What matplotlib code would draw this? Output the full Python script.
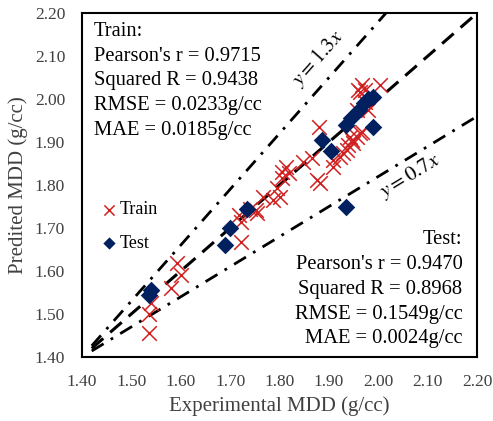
import matplotlib
matplotlib.use('Agg')
import matplotlib.pyplot as plt
import numpy as np

plt.rcParams['font.family'] = ['Liberation Serif', 'DejaVu Serif']
plt.rcParams['mathtext.fontset'] = 'stix'

# Train points (experimental, predicted)
train_x = [1.535, 1.535, 1.54, 1.58, 1.593, 1.601, 1.723, 1.723, 1.719, 1.755,
           1.753, 1.766, 1.786, 1.80, 1.794, 1.806, 1.804, 1.820, 1.814, 1.847,
           1.865, 1.881, 1.875, 1.880, 1.908, 1.922, 1.936, 1.946, 1.928, 1.938,
           1.942, 1.948, 1.956, 1.962, 1.966, 1.979, 1.956, 1.972, 1.958, 1.966,
           1.972, 2.003, 1.962, 1.908, 1.740]
train_y = [1.455, 1.50, 1.525, 1.56, 1.618, 1.591, 1.667, 1.714, 1.730, 1.735,
           1.742, 1.772, 1.765, 1.772, 1.793, 1.816, 1.830, 1.828, 1.842, 1.853,
           1.863, 1.805, 1.812, 1.935, 1.858, 1.865, 1.881, 1.905, 1.874, 1.893,
           1.912, 1.898, 1.912, 1.921, 1.923, 1.974, 1.974, 1.993, 2.021, 2.033,
           2.021, 2.033, 2.016, 1.842, 1.745]

# Test points
test_x = [1.535, 1.540, 1.690, 1.700, 1.735, 1.885, 1.905, 1.935, 1.935, 1.945,
          1.960, 1.970, 1.980, 1.990, 1.990]
test_y = [1.545, 1.555, 1.660, 1.700, 1.745, 1.905, 1.880, 1.750, 1.940, 1.955,
          1.975, 1.990, 2.000, 2.005, 1.935]

ticks = [1.40, 1.50, 1.60, 1.70, 1.80, 1.90, 2.00, 2.10, 2.20]

train_stats = ["Train:", "Pearson's r = 0.9715", "Squared R = 0.9438",
               "RMSE = 0.0233g/cc", "MAE = 0.0185g/cc"]
test_stats = ["Test:", "Pearson's r = 0.9470", "Squared R = 0.8968",
              "RMSE = 0.1549g/cc", "MAE = 0.0024g/cc"]

fig = plt.figure(figsize=(4.93, 4.21), dpi=100)
ax = fig.add_axes([0.166, 0.152, 0.802, 0.817])

# reference lines through (1.4, 1.4)
xl = np.array([1.42, 2.2])
ax.plot(xl, xl, color='black', ls=(0, (5, 3)), lw=2.2, zorder=1)
ax.plot(xl, 1.4 + 1.3 * (xl - 1.4), color='black', ls=(0, (5, 3, 1, 3)), lw=2.0, zorder=1)
ax.plot(xl, 1.4 + 0.7 * (xl - 1.4), color='black', ls=(0, (5, 3, 1, 3)), lw=2.0, zorder=1)

ax.scatter(train_x, train_y, marker='x', s=110, color='#D02020', linewidths=1.1,
           label='Train', zorder=2)
ax.scatter(test_x, test_y, marker='D', s=80, color='#002060', linewidths=0,
           label='Test', zorder=3)

ax.set_xlim(1.4, 2.2)
ax.set_ylim(1.4, 2.2)
ax.set_xticks(ticks)
ax.set_yticks(ticks)
ax.set_xticklabels(['%.2f' % t for t in ticks])
ax.set_yticklabels(['%.2f' % t for t in ticks])
ax.tick_params(length=0, labelsize=12.5, colors='#404040', pad=12)
for s in ax.spines.values():
    s.set_linewidth(1.5)

ax.set_xlabel('Experimental MDD (g/cc)', fontsize=15, color='#404040', labelpad=5)
ax.set_ylabel('Predited MDD (g/cc)', fontsize=15, color='#404040', labelpad=5)

ax.text(0.03, 0.975, '\n'.join(train_stats), transform=ax.transAxes, ha='left',
        va='top', fontsize=14.8, linespacing=1.42)
ax.text(0.963, 0.025, '\n'.join(test_stats), transform=ax.transAxes, ha='right',
        va='bottom', fontsize=14.8, linespacing=1.42, multialignment='right')

ax.text(1.878, 2.095, r'$y = 1.3x$', fontsize=15, rotation=48.5,
        ha='center', va='center')
ax.text(2.064, 1.822, r'$y = 0.7x$', fontsize=15, rotation=31.5,
        ha='center', va='center')

ax.legend(loc='upper left', bbox_to_anchor=(0.0, 0.50), frameon=False,
          fontsize=13, handletextpad=0.0, labelspacing=0.9, borderpad=0.4,
          handlelength=1.2, scatterpoints=1, markerscale=0.7)

fig.savefig('out.png', dpi=100)
